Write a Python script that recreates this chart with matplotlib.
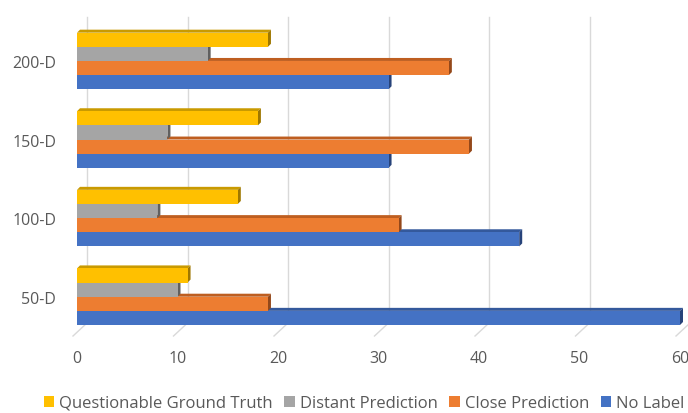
import matplotlib
matplotlib.use("Agg")
from matplotlib import pyplot as plt
from matplotlib.patches import Patch, Polygon
import numpy as np

categories = ['50-D', '100-D', '150-D', '200-D']
series_names = ['Questionable Ground Truth', 'Distant Prediction', 'Close Prediction', 'No Label']
questionable = [11, 16, 18, 19]
distant = [10, 8, 9, 13]
close = [19, 32, 39, 37]
no_label = [60, 44, 31, 31]

face_colors = ['#FFC000', '#A5A5A5', '#ED7D31', '#4472C4']
top_colors = ['#C99A00', '#808080', '#BE5E20', '#34599C']
side_colors = ['#9E7700', '#606060', '#94481A', '#27437A']

plt.rcParams['font.family'] = ['Open Sans', 'DejaVu Sans']

W, H = 688, 414
fig = plt.figure(figsize=(W / 100, H / 100), dpi=100)
# front plane of the chart, in pixels: x 77..680, y 31..337 (from top)
ax = fig.add_axes([77 / W, 1 - 337 / H, (680 - 77) / W, (337 - 31) / H])
ax.set_xlim(0, 60)
ax.set_ylim(-0.5, 3.394)

y = np.arange(len(categories))
h = 0.18
offsets = [0.27, 0.09, -0.09, -0.27]
values = [questionable, distant, close, no_label]

# pixel -> data unit sizes
px_x = 60 / (680 - 77)
px_y = 3.894 / (337 - 31)

bar_d = 3.0     # bar extrusion, px
wall_dx, wall_dy = 10.0, 13.0   # back wall offset, px

# back-wall gridlines and the floor strokes running to the front
for v in range(0, 61, 10):
    xb = v + wall_dx * px_x
    yb = -0.5 + wall_dy * px_y
    ax.plot([xb, xb], [yb, 3.394 + wall_dy * px_y], color='#D9D9D9', lw=1.0,
            zorder=0, clip_on=False)
    ax.plot([xb, v - 4 * px_x], [yb, -0.5], color='#D9D9D9', lw=1.0,
            zorder=0, clip_on=False)

# bars: lower series first so the bar above hides its top face
for i in [3, 2, 1, 0]:
    z = 2 + (3 - i) * 3
    for yc, val in zip(y + offsets[i], values[i]):
        y0, y1 = yc - h / 2, yc + h / 2
        ddx, ddy = bar_d * px_x, bar_d * px_y
        ax.add_patch(Polygon([(0, y1), (val, y1), (val + ddx, y1 + ddy), (ddx, y1 + ddy)],
                             closed=True, facecolor=top_colors[i], edgecolor='none',
                             zorder=z, clip_on=False))
        ax.add_patch(Polygon([(val, y0), (val + ddx, y0 + ddy), (val + ddx, y1 + ddy), (val, y1)],
                             closed=True, facecolor=side_colors[i], edgecolor='none',
                             zorder=z, clip_on=False))
    bars = ax.barh(y + offsets[i], values[i], height=h, color=face_colors[i], edgecolor='none',
                   zorder=z + 1)
    for b in bars:
        b.set_clip_on(False)

ax.set_yticks(y)
ax.set_yticklabels(categories)
ax.set_xticks(range(0, 61, 10))
ax.tick_params(axis='both', length=0, colors='#595959', labelsize=11.5)
ax.tick_params(axis='x', pad=10)
ax.tick_params(axis='y', pad=15)
for s in ax.spines.values():
    s.set_visible(False)

handles = [Patch(facecolor=c, edgecolor='none') for c in face_colors]
fig.legend(handles, series_names, loc='center', bbox_to_anchor=(364 / W, 1 - 404 / H),
           ncol=4, frameon=False, fontsize=12, handlelength=0.62, handleheight=0.62,
           handletextpad=0.3, columnspacing=0.7, labelcolor='#595959',
           borderpad=0, borderaxespad=0)

fig.savefig('out.png', dpi=100)
